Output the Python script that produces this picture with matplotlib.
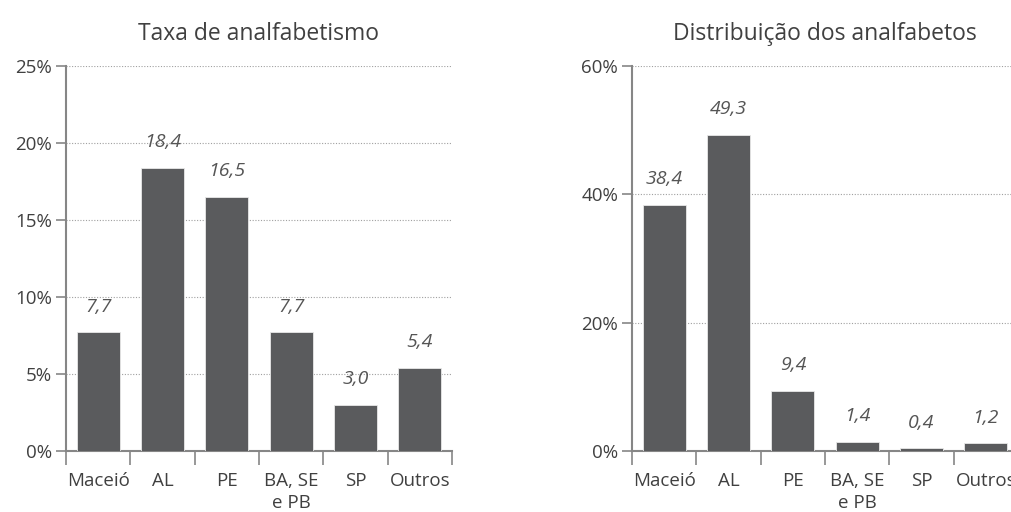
import matplotlib
matplotlib.use("Agg")
import matplotlib.pyplot as plt
import numpy as np

categories = ["Maceió", "AL", "PE", "BA, SE\ne PB", "SP", "Outros"]
taxa = [7.7, 18.4, 16.5, 7.7, 3.0, 5.4]
distribuicao = [38.4, 49.3, 9.4, 1.4, 0.4, 1.2]
titles = ["Taxa de analfabetismo", "Distribuição dos analfabetos"]
yticks_left = [0, 5, 10, 15, 20, 25]
yticks_right = [0, 20, 40, 60]

plt.rcParams['font.family'] = ['Open Sans', 'DejaVu Sans']
text_color = '#404040'
bar_color = '#5a5b5d'
axis_color = '#868686'

fig = plt.figure(figsize=(10.11, 5.12), dpi=100)
W, H = 1011, 512

def make_axes(left_px, values, yticks, title):
    ax = fig.add_axes([left_px / W, 61 / H, 386 / W, 385 / H])
    x = np.arange(len(values))
    ax.bar(x, values, width=0.67, color=bar_color, edgecolor='#e8e8e8', linewidth=0.6, zorder=3)
    ax.set_xlim(-0.5, len(values) - 0.5)
    ax.set_ylim(yticks[0], yticks[-1])
    ax.set_yticks(yticks)
    ax.set_yticklabels([f"{t}%" for t in yticks])
    ax.set_xticks(x)
    ax.set_xticklabels(categories, linespacing=1.3)
    ax.set_xticks(np.arange(-0.5, len(values)), minor=True)
    ax.tick_params(axis='x', which='major', length=0, pad=15, labelsize=13.5, colors=text_color)
    ax.tick_params(axis='x', which='minor', length=10, width=1.2, color=axis_color, direction='out')
    ax.tick_params(axis='y', length=7, width=1.2, color=axis_color, labelsize=13.5, labelcolor=text_color, pad=3)
    for s in ['top', 'right']:
        ax.spines[s].set_visible(False)
    for s in ['left', 'bottom']:
        ax.spines[s].set_color(axis_color)
        ax.spines[s].set_linewidth(1.5)
    ax.yaxis.grid(True, linestyle=(0, (1, 1.5)), color='#a0a0a0', linewidth=0.8, zorder=0)
    ax.set_axisbelow(True)
    for xi, v in zip(x, values):
        ax.annotate(f"{v:.1f}".replace('.', ','), (xi, v), xytext=(0, 12),
                    textcoords='offset points', ha='center', va='bottom',
                    fontsize=14, style='italic', color='#555555')
    ax.set_title(title, fontsize=16.5, color=text_color, pad=19)
    return ax

make_axes(66, taxa, yticks_left, titles[0])
make_axes(632, distribuicao, yticks_right, titles[1])

fig.savefig("out.png", dpi=100)
